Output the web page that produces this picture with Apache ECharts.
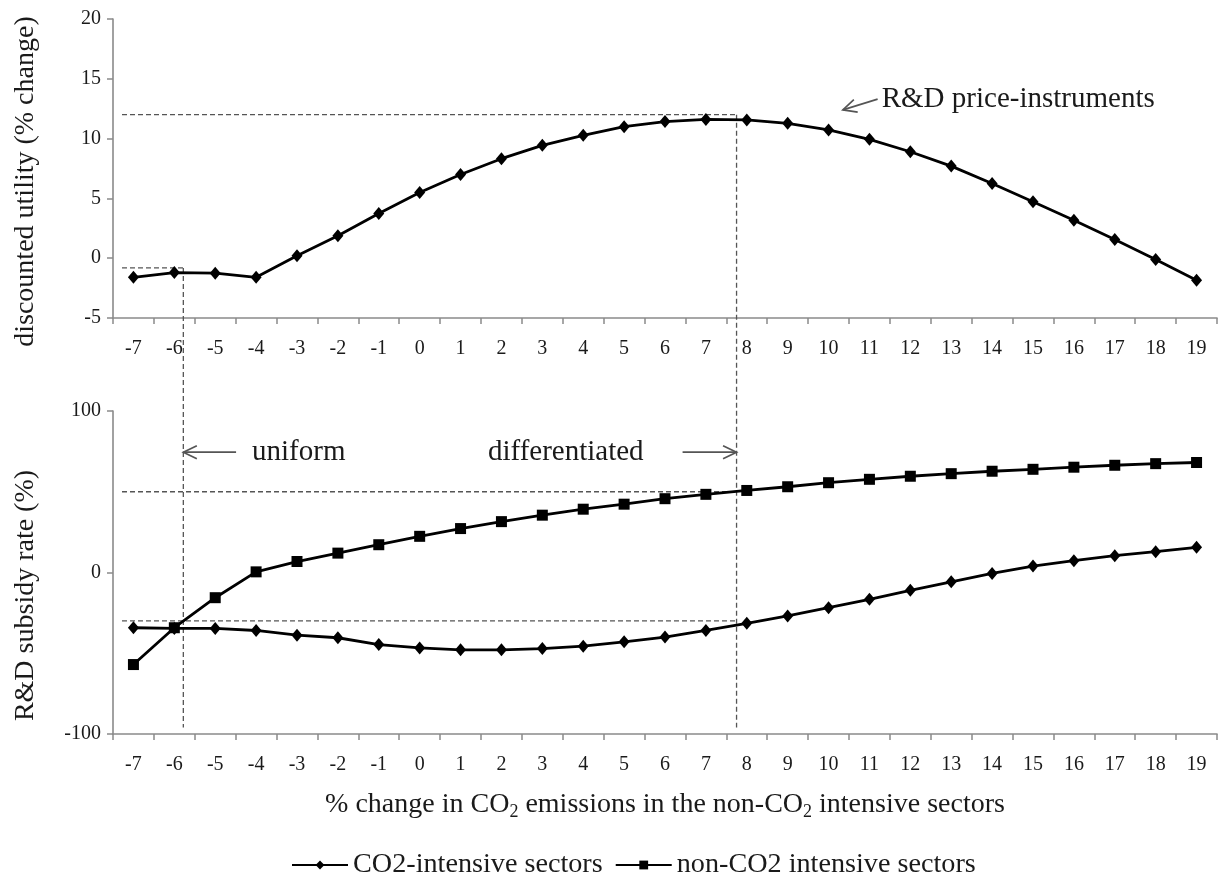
<!DOCTYPE html>
<html>
<head>
<meta charset="utf-8">
<script src="https://cdn.jsdelivr.net/npm/echarts@6/dist/echarts.min.js"></script>
<style>
html,body{margin:0;padding:0;background:#fff;}
#c{width:1221px;height:875px;}
</style>
</head>
<body>
<div id="c"></div>
<script>
// ---- data ----
var categories = ['-7','-6','-5','-4','-3','-2','-1','0','1','2','3','4','5','6','7','8','9','10','11','12','13','14','15','16','17','18','19'];
var utility = [-1.6,-1.2,-1.25,-1.6,0.2,1.87,3.74,5.5,7.0,8.32,9.44,10.27,11.0,11.42,11.6,11.56,11.28,10.72,9.94,8.9,7.7,6.25,4.72,3.18,1.56,-0.11,-1.84];
var co2Subsidy = [-34.2,-34.6,-34.6,-35.9,-38.8,-40.4,-44.6,-46.7,-47.9,-47.9,-47.1,-45.6,-42.9,-40.0,-35.9,-31.5,-26.9,-21.8,-16.6,-11.0,-5.8,-0.6,4.0,7.3,10.4,12.9,15.6];
var nonCo2Subsidy = [-57.0,-34.2,-15.6,0.4,6.8,12.0,17.2,22.4,27.2,31.5,35.5,39.2,42.3,45.7,48.4,50.8,53.1,55.6,57.7,59.6,61.2,62.7,63.9,65.2,66.4,67.4,68.1];
var topTicks = [-5, 20, 5];      // min, max, interval
var bottomTicks = [-100, 100, 100];

// guide lines (x in % change units, y in axis units)
var uniformX = -5.78, diffX = 7.75;
var topGuideLevels = [12, -0.81];       // horizontal guides, top panel
var topGuideEnds = [diffX, uniformX];
var bottomGuideLevels = [50, -30];
var guideStartX = -7.28;
var guideBottomY = -96;
// annotations
var priceLabel = {text: 'R&D price-instruments', arrowTail: [11.2, 13.3], arrowTip: [10.35, 12.4], textAt: [11.3, 13.3]};
var uniformLabel = {text: 'uniform', arrowTail: [-4.49, 74.5], arrowTip: [uniformX, 74.5], textAt: [-4.1, 74.5]};
var diffLabel = {text: 'differentiated', arrowTail: [6.43, 74.5], arrowTip: [diffX, 74.5], textAt: [1.67, 74.5]};

var FONT = 'Liberation Serif';
var axisColor = '#8a8a8a';
var textColor = '#1a1a1a';
var guideStyle = {color: '#555', width: 1.3, type: [5, 3]};

var chart = echarts.init(document.getElementById('c'));

function catAxis(grid, showName) {
  var a = {
    type: 'category', gridIndex: grid, data: categories, boundaryGap: true,
    axisLine: {onZero: false, lineStyle: {color: axisColor, width: 1.6}},
    axisTick: {show: true, length: 6, lineStyle: {color: axisColor, width: 1.5}},
    axisLabel: {color: textColor, fontFamily: FONT, fontSize: 20, margin: 21, interval: 0},
    splitLine: {show: false}
  };
  if (showName) {
    a.name = '{a|% change in CO}{s|2}{a| emissions in the non-CO}{s|2}{a| intensive sectors}';
    a.nameLocation = 'middle';
    a.nameGap = 55;
    a.nameTextStyle = {
      rich: {
        a: {fontFamily: FONT, fontSize: 28, color: textColor, lineHeight: 32},
        s: {fontFamily: FONT, fontSize: 18, color: textColor, lineHeight: 32, padding: [15, 0, 0, 0]}
      }
    };
  }
  return a;
}
function valXAxis(grid) {
  return {type: 'value', gridIndex: grid, min: -7.5, max: 19.5, show: false};
}
function valYAxis(grid, ticks, name, pad) {
  return {
    type: 'value', gridIndex: grid, min: ticks[0], max: ticks[1], interval: ticks[2],
    name: name, nameLocation: 'middle', nameGap: 73, nameRotate: 90,
    nameTextStyle: {fontFamily: FONT, fontSize: 28, color: textColor, padding: pad},
    axisLine: {show: true, onZero: false, lineStyle: {color: axisColor, width: 1.6}},
    axisTick: {show: true, length: 6, lineStyle: {color: axisColor, width: 1.5}},
    axisLabel: {color: textColor, fontFamily: FONT, fontSize: 20, margin: 12},
    splitLine: {show: false}
  };
}

var guideSeries = [];
topGuideLevels.forEach(function (lv, i) {
  guideSeries.push({type: 'line', xAxisIndex: 2, yAxisIndex: 0, symbol: 'none', silent: true,
    lineStyle: guideStyle, data: [[guideStartX, lv], [topGuideEnds[i], lv]], z: 1});
});
bottomGuideLevels.forEach(function (lv) {
  guideSeries.push({type: 'line', xAxisIndex: 3, yAxisIndex: 1, symbol: 'none', silent: true,
    lineStyle: guideStyle, data: [[guideStartX, lv], [diffX, lv]], z: 1});
});

var lineCommon = {type: 'line', color: '#000', lineStyle: {color: '#000', width: 2.8},
  itemStyle: {color: '#000'}, z: 3};

chart.setOption({
  animation: false,
  backgroundColor: '#fff',
  grid: [
    {left: 113, right: 4, top: 19, height: 299},
    {left: 113, right: 4, top: 411, height: 323}
  ],
  xAxis: [catAxis(0, false), catAxis(1, true), valXAxis(0), valXAxis(1)],
  yAxis: [
    valYAxis(0, topTicks, 'discounted utility (% change)', [0, 26, 0, 0]),
    valYAxis(1, bottomTicks, 'R&D subsidy rate (%)', [0, 46, 0, 0])
  ],
  legend: {
    top: 846, left: 286, data: ['CO2-intensive sectors', 'non-CO2 intensive sectors'],
    itemWidth: 56, itemHeight: 11, itemGap: 12,
    textStyle: {fontFamily: FONT, fontSize: 28.2, color: textColor}
  },
  series: [
    Object.assign({}, lineCommon, {name: 'utility', xAxisIndex: 0, yAxisIndex: 0, symbol: 'diamond', symbolSize: [11, 13], data: utility}),
    Object.assign({}, lineCommon, {name: 'CO2-intensive sectors', xAxisIndex: 1, yAxisIndex: 1, symbol: 'diamond', symbolSize: [11, 13], data: co2Subsidy}),
    Object.assign({}, lineCommon, {name: 'non-CO2 intensive sectors', xAxisIndex: 1, yAxisIndex: 1, symbol: 'rect', symbolSize: 11, data: nonCo2Subsidy})
  ].concat(guideSeries)
});

// overlays positioned through the axes' own scales
function topPx(p) { return chart.convertToPixel({xAxisIndex: 2, yAxisIndex: 0}, p); }
function botPx(p) { return chart.convertToPixel({xAxisIndex: 3, yAxisIndex: 1}, p); }

function arrow(fromPx, toPx) {
  var dx = toPx[0] - fromPx[0], dy = toPx[1] - fromPx[1];
  var L = Math.sqrt(dx * dx + dy * dy), ux = dx / L, uy = dy / L;
  var len = 15, ang = 0.45;
  function rot(a) {
    var c = Math.cos(a), s = Math.sin(a);
    return [toPx[0] - len * (ux * c - uy * s), toPx[1] - len * (ux * s + uy * c)];
  }
  var st = {stroke: '#555', lineWidth: 1.7, fill: null};
  return [
    {type: 'line', shape: {x1: fromPx[0], y1: fromPx[1], x2: toPx[0], y2: toPx[1]}, style: st, silent: true},
    {type: 'polyline', shape: {points: [rot(ang), toPx, rot(-ang)]}, style: st, silent: true}
  ];
}
function label(obj, toPx) {
  var p = toPx(obj.textAt);
  return {type: 'text', x: p[0], y: p[1], silent: true,
    style: {text: obj.text, fontFamily: FONT, fontSize: 29, fill: textColor, textAlign: 'left', textVerticalAlign: 'middle'}};
}

var g = [];
[uniformX, diffX].forEach(function (x, i) {
  var top = topPx([x, topGuideLevels[i === 0 ? 1 : 0]]);
  var bot = botPx([x, guideBottomY]);
  g.push({type: 'line', silent: true, z: 1, shape: {x1: top[0], y1: top[1], x2: bot[0], y2: bot[1]},
    style: {stroke: '#555', lineWidth: 1.3, lineDash: [5, 3]}});
});
g = g.concat(arrow(topPx(priceLabel.arrowTail), topPx(priceLabel.arrowTip)));
g.push(label(priceLabel, topPx));
g = g.concat(arrow(botPx(uniformLabel.arrowTail), botPx(uniformLabel.arrowTip)));
g.push(label(uniformLabel, botPx));
g = g.concat(arrow(botPx(diffLabel.arrowTail), botPx(diffLabel.arrowTip)));
g.push(label(diffLabel, botPx));
chart.setOption({graphic: g});
</script>
</body>
</html>
